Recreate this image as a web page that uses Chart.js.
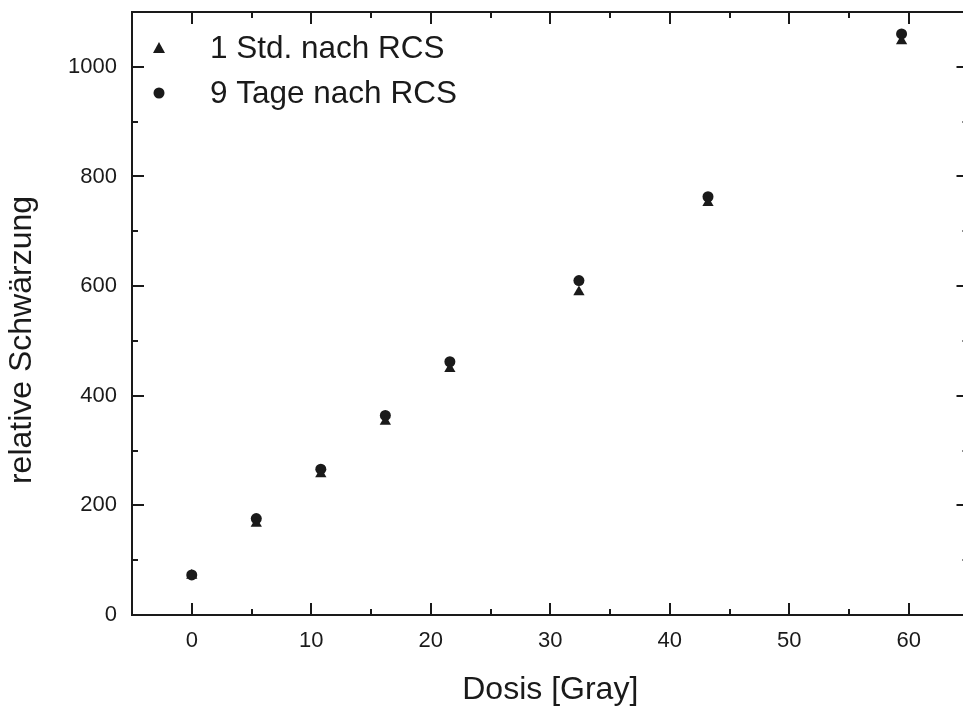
<!DOCTYPE html>
<html>
<head>
<meta charset="utf-8">
<script src="https://cdn.jsdelivr.net/npm/chart.js@4/dist/chart.umd.min.js"></script>
<style>
  html, body { margin: 0; padding: 0; background: #fff; overflow: hidden; }
  #wrap { width: 963px; height: 706px; overflow: hidden; }
  canvas { display: block; }
</style>
</head>
<body>
<div id="wrap"><canvas id="c" width="975" height="706"></canvas></div>
<script>
const dose = [0, 5.4, 10.8, 16.2, 21.6, 32.4, 43.2, 59.4];
const oneHour = [72, 167, 257, 353, 449, 589, 752, 1047];
const nineDays = [73, 176, 266, 364, 462, 610, 763, 1060];
const seriesLabels = ["1 Std. nach RCS", "9 Tage nach RCS"];
const xTitle = "Dosis [Gray]";
const yTitle = "relative Schwärzung";

const FONT = "'Liberation Sans', Arial, sans-serif";
const INK = "#1a1a1a";

const toPoints = ys => dose.map((d, i) => ({ x: d, y: ys[i] }));

// frame, inward ticks on all four sides, y title and the legend inside the plot
const framePlugin = {
  id: "frame",
  afterDraw(chart) {
    const { ctx, chartArea: a, scales } = chart;
    const xs = scales.x, ys = scales.y;
    ctx.save();
    ctx.strokeStyle = INK;
    ctx.lineWidth = 2;
    ctx.strokeRect(a.left, a.top, a.right - a.left, a.bottom - a.top);

    const major = 12, minor = 6;
    ctx.beginPath();
    for (let v = xs.min; v <= xs.max + 1e-9; v += 5) {
      const px = Math.round(xs.getPixelForValue(v));
      const len = (Math.round(v) % 10 === 0) ? major : minor;
      ctx.moveTo(px, a.bottom); ctx.lineTo(px, a.bottom - len);
      ctx.moveTo(px, a.top); ctx.lineTo(px, a.top + len);
    }
    for (let v = ys.min; v <= ys.max + 1e-9; v += 100) {
      const py = Math.round(ys.getPixelForValue(v));
      const len = (Math.round(v) % 200 === 0) ? major : minor;
      ctx.moveTo(a.left, py); ctx.lineTo(a.left + len, py);
      ctx.moveTo(a.right, py); ctx.lineTo(a.right - len, py);
    }
    ctx.stroke();

    ctx.fillStyle = INK;

    // y axis title
    ctx.save();
    ctx.translate(22, 340);
    ctx.rotate(-Math.PI / 2);
    ctx.font = "32px " + FONT;
    ctx.textAlign = "center";
    ctx.textBaseline = "middle";
    ctx.fillText(yTitle, 0, 0);
    ctx.restore();

    // legend
    ctx.font = "31.5px " + FONT;
    ctx.textBaseline = "middle";
    const items = [{ y: 48, style: "triangle" }, { y: 93, style: "circle" }];
    items.forEach((it, i) => {
      const mx = 159;
      ctx.beginPath();
      if (it.style === "triangle") {
        ctx.moveTo(mx, it.y - 6); ctx.lineTo(mx + 6, it.y + 5); ctx.lineTo(mx - 6, it.y + 5);
        ctx.closePath();
      } else {
        ctx.arc(mx, it.y, 5.5, 0, Math.PI * 2);
      }
      ctx.fill();
      ctx.fillText(seriesLabels[i], 210, it.y + 1);
    });
    ctx.restore();
  }
};

new Chart(document.getElementById("c"), {
  type: "scatter",
  data: {
    datasets: [
      {
        label: seriesLabels[0],
        data: toPoints(oneHour),
        pointStyle: "triangle",
        pointRadius: 6.5,
        backgroundColor: INK,
        borderColor: INK,
        borderWidth: 0
      },
      {
        label: seriesLabels[1],
        data: toPoints(nineDays),
        pointStyle: "circle",
        pointRadius: 5.5,
        backgroundColor: INK,
        borderColor: INK,
        borderWidth: 0
      }
    ]
  },
  options: {
    responsive: false,
    animation: false,
    layout: { padding: { top: 12, right: 6, left: 0, bottom: 0 } },
    plugins: { legend: { display: false }, tooltip: { enabled: false } },
    scales: {
      x: {
        type: "linear",
        min: -5,
        max: 65,
        grid: { display: false, drawTicks: false },
        border: { display: false },
        ticks: {
          stepSize: 5,
          color: INK,
          maxRotation: 0,
          autoSkip: false,
          font: { family: FONT, size: 22 },
          padding: 13,
          callback: v => (v % 10 === 0 && v >= 0 && v <= 60) ? v : ""
        },
        title: {
          display: true,
          text: xTitle,
          color: INK,
          font: { family: FONT, size: 32, lineHeight: 1 },
          padding: { top: 0, bottom: 0 }
        },
        afterFit(s) {
          s.height = 91;
          s.paddingLeft = 0;
          s.paddingRight = 0;
        }
      },
      y: {
        type: "linear",
        min: 0,
        max: 1100,
        grid: { display: false, drawTicks: false },
        border: { display: false },
        ticks: {
          stepSize: 100,
          color: INK,
          autoSkip: false,
          font: { family: FONT, size: 22 },
          padding: 15,
          callback: v => (v % 200 === 0 && v <= 1000) ? v : ""
        },
        title: { display: false },
        afterFit(s) {
          s.width = 132;
          s.paddingTop = 0;
          s.paddingBottom = 0;
        }
      }
    }
  },
  plugins: [framePlugin]
});
</script>
</body>
</html>
